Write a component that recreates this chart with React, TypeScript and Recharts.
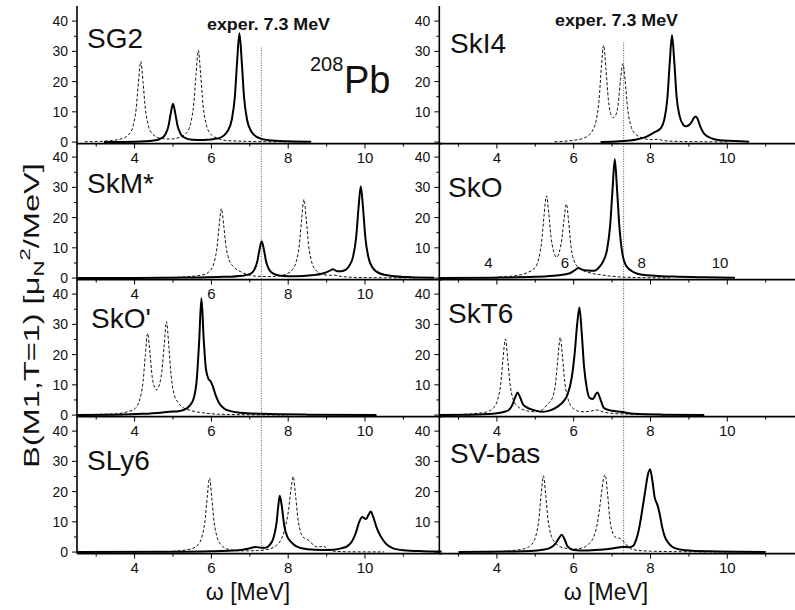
import React from 'react';
import { LineChart, Line, XAxis, YAxis, ReferenceLine } from 'recharts';

type P = [number, number];

// ---------- data: [omega (MeV), B(M1) (mu_N^2/MeV)] ----------
const sg2Solid: P[] = [
  [3.2, 0.05], [4.0, 0.15], [4.5, 0.5], [4.7, 1.3], [4.8, 2.5], [4.88, 5.2], [4.94, 9.4], [5.0, 12.7],
  [5.06, 9.4], [5.12, 5.3], [5.2, 2.7], [5.3, 1.5], [5.5, 0.8], [5.8, 0.7], [6.2, 1.3], [6.43, 3.8],
  [6.53, 7.4], [6.61, 14.9], [6.67, 26.7], [6.73, 36.0], [6.79, 26.7], [6.85, 14.9], [6.93, 7.3],
  [7.03, 3.7], [7.23, 1.4], [7.5, 0.6], [8.0, 0.25], [8.6, 0.1],
];
const sg2Dashed: P[] = [
  [2.7, 0.1], [3.2, 0.3], [3.66, 1.1], [3.86, 2.7], [3.96, 5.3], [4.04, 11], [4.1, 19.8], [4.16, 26.7],
  [4.22, 19.8], [4.28, 11], [4.36, 5.4], [4.46, 2.8], [4.66, 1.3], [4.9, 1.0], [5.16, 1.5], [5.36, 3.2],
  [5.46, 6.2], [5.54, 12.6], [5.6, 22.4], [5.66, 30.3], [5.72, 22.4], [5.78, 12.5], [5.86, 6.1],
  [5.96, 3.0], [6.16, 1.2], [6.4, 0.5], [6.8, 0.3], [7.5, 0.1], [8.5, 0.05],
];
const ski4Solid: P[] = [
  [6.7, 0.05], [7.2, 0.3], [7.6, 0.8], [7.9, 1.8], [8.1, 3.2], [8.27, 4.6], [8.36, 7.5], [8.44, 14.5],
  [8.5, 26], [8.56, 35.3], [8.62, 26.5], [8.68, 15], [8.76, 8.5], [8.85, 5.8], [8.92, 5.2], [9.0, 5.6],
  [9.08, 6.8], [9.13, 8.0], [9.18, 8.5], [9.23, 7.6], [9.3, 5.0], [9.4, 2.7], [9.6, 1.2], [9.9, 0.5],
  [10.57, 0.15],
];
const ski4Dashed: P[] = [
  [5.5, 0.1], [6.0, 0.6], [6.28, 1.4], [6.48, 3.6], [6.58, 6.9], [6.66, 13.8], [6.72, 24.6], [6.78, 32.0],
  [6.84, 24.3], [6.9, 14.4], [6.98, 8.8], [7.03, 8.1], [7.08, 8.6], [7.16, 12.6], [7.22, 20.7],
  [7.28, 25.9], [7.34, 20.3], [7.4, 11.5], [7.48, 5.8], [7.58, 3.0], [7.78, 1.4], [8.0, 0.8],
  [8.18, 0.9], [8.4, 0.4], [9.0, 0.15], [10.0, 0.05],
];
const skmSolid: P[] = [
  [2.5, 0.02], [4.0, 0.05], [5.5, 0.2], [6.3, 0.4], [6.81, 0.8], [7.01, 1.4], [7.11, 2.6], [7.19, 5.2],
  [7.25, 9.2], [7.31, 12.2], [7.37, 9.2], [7.43, 5.2], [7.51, 2.7], [7.61, 1.5], [7.81, 0.8], [8.2, 0.6],
  [8.6, 0.9], [8.9, 1.5], [9.05, 2.2], [9.17, 2.9], [9.27, 2.3], [9.39, 2.3], [9.49, 2.7], [9.59, 4.1],
  [9.69, 7.1], [9.77, 13.5], [9.83, 23], [9.89, 30.4], [9.95, 23], [10.01, 13.3], [10.09, 6.8],
  [10.19, 3.6], [10.39, 1.5], [10.7, 0.7], [11.2, 0.3], [11.8, 0.15],
];
const skmDashed: P[] = [
  [4.85, 0.1], [5.3, 0.4], [5.76, 1.0], [5.96, 2.4], [6.06, 4.7], [6.14, 9.6], [6.2, 17], [6.26, 23.0],
  [6.32, 17.5], [6.38, 10.5], [6.46, 6.0], [6.59, 3.6], [6.75, 2.2], [6.93, 1.2], [7.2, 0.6], [7.5, 0.5],
  [7.8, 0.8], [7.95, 1.3], [8.11, 2.8], [8.21, 5.5], [8.29, 11], [8.35, 19.5], [8.41, 26.0],
  [8.47, 19.5], [8.53, 11], [8.61, 5.4], [8.71, 2.7], [8.91, 1.2], [9.1, 0.9], [9.2, 1.0], [9.4, 0.5],
  [9.8, 0.2], [10.5, 0.1], [11.3, 0.05],
];
const skoSolid: P[] = [
  [2.5, 0.05], [4.0, 0.15], [5.0, 0.4], [5.6, 0.9], [5.9, 1.6], [6.02, 2.5], [6.12, 3.3], [6.22, 2.8],
  [6.36, 2.5], [6.54, 2.4], [6.67, 3.7], [6.77, 5.6], [6.87, 9.5], [6.95, 17.5], [7.01, 29], [7.07, 39.3],
  [7.13, 29], [7.19, 17], [7.27, 7.9], [7.37, 4.0], [7.57, 1.9], [7.8, 1.1], [8.1, 0.8], [8.6, 0.5],
  [9.4, 0.25], [10.2, 0.1],
];
const skoDashed: P[] = [
  [3.54, 0.1], [4.0, 0.3], [4.5, 0.8], [4.79, 1.8], [4.99, 3.4], [5.09, 6.4], [5.17, 12.6], [5.23, 21],
  [5.29, 27.2], [5.35, 21.5], [5.41, 13.5], [5.48, 8.7], [5.55, 6.9], [5.62, 8.4], [5.69, 12.8],
  [5.75, 19.5], [5.81, 24.5], [5.87, 18.5], [5.93, 10.4], [6.01, 5.7], [6.17, 3.0], [6.4, 1.8],
  [6.69, 1.1], [7.0, 0.6], [7.3, 0.3], [7.8, 0.15], [8.5, 0.05],
];
const skopSolid: P[] = [
  [2.5, 0.05], [3.5, 0.15], [4.2, 0.4], [4.68, 0.8], [4.9, 1.1], [5.1, 1.2], [5.3, 1.8], [5.44, 3.2],
  [5.54, 5.6], [5.62, 12], [5.68, 24], [5.74, 38.6], [5.8, 25], [5.86, 15], [5.93, 11.8], [5.98, 11.2],
  [6.04, 9.4], [6.11, 6.6], [6.2, 4.0], [6.33, 2.2], [6.5, 1.3], [6.76, 0.8], [7.3, 0.4], [8.5, 0.15],
  [10.3, 0.05],
];
const skopDashed: P[] = [
  [2.7, 0.1], [3.2, 0.3], [3.56, 0.5], [3.84, 1.2], [3.99, 1.9], [4.14, 5.4], [4.22, 11], [4.28, 20],
  [4.34, 27.0], [4.4, 20.5], [4.46, 12.5], [4.52, 9.2], [4.57, 8.3], [4.63, 9.5], [4.71, 14.5],
  [4.77, 23], [4.83, 30.9], [4.89, 23], [4.95, 13.2], [5.03, 6.8], [5.12, 4.4], [5.25, 2.6],
  [5.47, 1.5], [5.8, 0.7], [6.17, 0.3], [7.0, 0.1], [8.0, 0.05],
];
const skt6Solid: P[] = [
  [2.5, 0.05], [3.5, 0.2], [4.0, 0.6], [4.22, 1.2], [4.32, 1.8], [4.4, 3.3], [4.48, 6.0], [4.54, 7.5],
  [4.6, 6.0], [4.68, 3.5], [4.8, 2.4], [4.95, 1.7], [5.15, 1.1], [5.35, 1.4], [5.58, 2.8], [5.75, 4.8],
  [5.84, 6.8], [5.95, 12.5], [6.03, 21], [6.09, 30], [6.15, 35.6], [6.21, 27], [6.27, 16], [6.34, 9.0],
  [6.42, 5.6], [6.5, 5.3], [6.57, 6.8], [6.62, 7.5], [6.68, 5.8], [6.79, 2.3], [7.0, 1.4], [7.22, 1.1],
  [7.57, 0.4], [8.3, 0.15], [9.4, 0.05],
];
const skt6Dashed: P[] = [
  [2.63, 0.05], [3.2, 0.3], [3.72, 1.0], [3.92, 2.5], [4.02, 5.1], [4.1, 10.3], [4.16, 18.6], [4.22, 25.1],
  [4.28, 18.7], [4.34, 10.5], [4.42, 5.3], [4.55, 2.8], [4.75, 1.5], [4.98, 1.1], [5.15, 1.5],
  [5.32, 3.6], [5.45, 5.8], [5.53, 10.8], [5.59, 19], [5.65, 25.7], [5.71, 19], [5.77, 10.7],
  [5.85, 5.4], [5.93, 3.0], [6.05, 1.7], [6.19, 1.1], [6.4, 1.2], [6.6, 1.7], [6.78, 1.0], [6.97, 0.6],
  [7.4, 0.3], [8.0, 0.15], [9.0, 0.05],
];
const sly6Solid: P[] = [
  [2.5, 0.02], [5.0, 0.1], [6.0, 0.25], [6.7, 0.6], [6.95, 1.1], [7.15, 1.7], [7.3, 1.4], [7.4, 1.4],
  [7.52, 2.4], [7.62, 4.8], [7.7, 10], [7.74, 15], [7.78, 18.6], [7.83, 15.5], [7.9, 8.5], [7.98, 5.0],
  [8.06, 3.5], [8.2, 2.0], [8.5, 0.9], [8.9, 0.7], [9.18, 0.8], [9.4, 1.3], [9.53, 1.9], [9.66, 3.5],
  [9.76, 6.3], [9.85, 10], [9.93, 11.6], [9.99, 11.1], [10.03, 10.9], [10.09, 12.3], [10.15, 13.4],
  [10.21, 11.8], [10.3, 8.2], [10.41, 5.2], [10.55, 2.7], [10.72, 1.3], [11.0, 0.6], [11.5, 0.3],
  [12.0, 0.2],
];
const sly6Dashed: P[] = [
  [4.6, 0.05], [5.05, 0.3], [5.45, 1.0], [5.65, 2.4], [5.75, 4.9], [5.83, 10], [5.89, 18], [5.95, 24.5],
  [6.01, 18], [6.07, 10], [6.15, 4.9], [6.25, 2.4], [6.45, 0.9], [6.8, 0.4], [7.2, 0.5], [7.5, 1.0],
  [7.7, 2.3], [7.83, 4.5], [7.93, 8.5], [8.01, 14], [8.07, 20.5], [8.13, 25.0], [8.19, 19], [8.25, 11.5],
  [8.33, 6.3], [8.42, 4.6], [8.52, 4.0], [8.62, 2.8], [8.72, 1.8], [8.85, 1.8], [8.91, 2.1], [8.98, 1.5],
  [9.18, 0.3], [9.6, 0.1], [10.5, 0.05],
];
const svbasSolid: P[] = [
  [3.0, 0.02], [4.5, 0.2], [5.2, 0.8], [5.4, 1.5], [5.52, 2.7], [5.61, 4.5], [5.69, 5.7], [5.76, 4.3],
  [5.84, 1.9], [6.0, 0.7], [6.3, 0.5], [6.7, 0.8], [7.0, 1.2], [7.28, 1.7], [7.45, 1.6], [7.55, 2.1],
  [7.63, 4.2], [7.7, 7.6], [7.78, 13.5], [7.86, 20], [7.93, 25.5], [7.99, 27.4], [8.05, 23.5],
  [8.11, 18], [8.18, 15.6], [8.24, 12.6], [8.3, 8.5], [8.37, 5.2], [8.48, 2.8], [8.63, 1.3], [8.9, 0.6],
  [9.5, 0.25], [11.0, 0.05],
];
const svbasDashed: P[] = [
  [3.76, 0.05], [4.3, 0.4], [4.71, 1.1], [4.91, 2.6], [5.01, 5.2], [5.09, 10.5], [5.15, 18.8],
  [5.21, 25.2], [5.27, 19], [5.33, 10.8], [5.41, 5.7], [5.51, 3.2], [5.71, 1.5], [6.0, 1.0], [6.2, 1.3],
  [6.4, 2.8], [6.52, 5], [6.62, 9.8], [6.7, 17], [6.76, 23], [6.82, 25.6], [6.88, 19.5], [6.94, 11],
  [7.02, 6.2], [7.1, 4.8], [7.2, 4.5], [7.3, 3.5], [7.4, 2.0], [7.55, 0.8], [8.0, 0.3], [9.0, 0.1],
  [11.0, 0.05],
];

const xTicks = [3, 4, 5, 6, 7, 8, 9, 10, 11];
const xLabelTicks = [4, 6, 8, 10];
const yTicks = [0, 5, 10, 15, 20, 25, 30, 35, 40];
const yLabelTicks = [0, 10, 20, 30, 40];
const expEnergy = 7.3;

// ---------- layout ----------
const X_DOMAIN: [number, number] = [2.5, 12];
const Y_DOMAIN: [number, number] = [-0.5, 45];
const PLOT_W = 364.8;
const PLOT_H = 137.6;
const TOP_PAD = 10;
const Y_AXIS_W = 30;
const X_AXIS_H = 28;
const ROW_BOTTOMS = [143.2, 280, 416.8, 553.6];
const COL_AXIS = [77, 439.3];
const COL_LEFT = [0, 395];

const toRows = (pts: P[]) => pts.map(([x, y]) => ({ x, y }));

const XTick = (props: any) => {
  const { x, y, payload, showLabel } = props;
  const v = payload.value as number;
  const major = xLabelTicks.includes(v);
  return (
    <g>
      <line x1={x} x2={x} y1={y} y2={y + (major ? 5 : 3)} stroke="#000" strokeWidth={1} />
      {showLabel && major ? (
        <text x={x} y={y + 19} textAnchor="middle" fontSize={15} fill="#111">{v}</text>
      ) : null}
    </g>
  );
};

const YTick = (props: any) => {
  const { x, y, payload, showZero } = props;
  const v = payload.value as number;
  const major = yLabelTicks.includes(v);
  const showLabel = major && (v !== 0 || showZero);
  return (
    <g>
      <line x1={x - (major ? 5 : 3)} x2={x} y1={y} y2={y} stroke="#000" strokeWidth={1} />
      {showLabel ? (
        <text x={x - 9} y={y + 5} textAnchor="end" fontSize={14} fill="#111">{v}</text>
      ) : null}
    </g>
  );
};

type PanelProps = {
  solid: P[];
  dashed: P[];
  row: number;
  col: number;
  showXLabels: boolean;
  refTop?: number;
};

const Panel = ({ solid, dashed, row, col, showXLabels, refTop }: PanelProps) => {
  const axisX = COL_AXIS[col];
  const leftM = axisX - COL_LEFT[col] - Y_AXIS_W;
  const plotTop = ROW_BOTTOMS[row] - PLOT_H;
  const w = axisX - COL_LEFT[col] + PLOT_W + 4;
  const h = TOP_PAD + PLOT_H + X_AXIS_H + 2;
  return (
    <div style={{ position: 'absolute', left: COL_LEFT[col], top: plotTop - TOP_PAD, width: w, height: h }}>
      <LineChart width={w} height={h} margin={{ top: TOP_PAD, left: leftM, right: 4, bottom: 2 }}>
        <XAxis
          type="number"
          dataKey="x"
          domain={X_DOMAIN}
          allowDataOverflow
          ticks={xTicks}
          height={X_AXIS_H}
          tickSize={0}
          tickMargin={0}
          tickLine={false}
          interval={0}
          axisLine={{ stroke: '#000', strokeWidth: 1.6 }}
          tick={(p: any) => <XTick {...p} showLabel={showXLabels} />}
        />
        <YAxis
          type="number"
          dataKey="y"
          domain={Y_DOMAIN}
          allowDataOverflow
          ticks={yTicks}
          width={Y_AXIS_W}
          tickSize={0}
          tickMargin={0}
          tickLine={false}
          interval={0}
          axisLine={{ stroke: '#000', strokeWidth: 1.6 }}
          tick={(p: any) => <YTick {...p} showZero={col === 0} />}
        />
        {refTop !== undefined ? (
          <ReferenceLine
            segment={[{ x: expEnergy, y: -0.5 }, { x: expEnergy, y: refTop }]}
            stroke="#555"
            strokeWidth={1}
            strokeDasharray="1 1.5"
          />
        ) : (
          <ReferenceLine x={expEnergy} stroke="#555" strokeWidth={1} strokeDasharray="1 1.5" />
        )}
        <Line
          data={toRows(dashed)}
          dataKey="y"
          type="monotone"
          stroke="#111"
          strokeWidth={1}
          strokeDasharray="3 2"
          dot={false}
          activeDot={false}
          isAnimationActive={false}
        />
        <Line
          data={toRows(solid)}
          dataKey="y"
          type="monotone"
          stroke="#000"
          strokeWidth={2}
          dot={false}
          activeDot={false}
          isAnimationActive={false}
        />
      </LineChart>
    </div>
  );
};

const panelNames = [
  { t: 'SG2', x: 87, y: 48 },
  { t: 'SkI4', x: 450, y: 53 },
  { t: 'SkM*', x: 87, y: 193 },
  { t: 'SkO', x: 448, y: 197 },
  { t: "SkO'", x: 91, y: 328 },
  { t: 'SkT6', x: 448, y: 323 },
  { t: 'SLy6', x: 87, y: 470 },
  { t: 'SV-bas', x: 450, y: 463 },
];
const skoStrayLabels = [
  { t: '4', x: 488.3 },
  { t: '6', x: 565 },
  { t: '8', x: 641.7 },
  { t: '10', x: 720 },
];

export default function App() {
  return (
    <div
      style={{
        position: 'fixed',
        left: 0,
        top: 0,
        width: 795,
        height: 610,
        overflow: 'hidden',
        background: '#fff',
        fontFamily: "'Liberation Sans', Arial, sans-serif",
      }}
    >
      <Panel solid={sg2Solid} dashed={sg2Dashed} row={0} col={0} showXLabels refTop={31.4} />
      <Panel solid={ski4Solid} dashed={ski4Dashed} row={0} col={1} showXLabels refTop={33.4} />
      <Panel solid={skmSolid} dashed={skmDashed} row={1} col={0} showXLabels />
      <Panel solid={skoSolid} dashed={skoDashed} row={1} col={1} showXLabels={false} />
      <Panel solid={skopSolid} dashed={skopDashed} row={2} col={0} showXLabels />
      <Panel solid={skt6Solid} dashed={skt6Dashed} row={2} col={1} showXLabels />
      <Panel solid={sly6Solid} dashed={sly6Dashed} row={3} col={0} showXLabels />
      <Panel solid={svbasSolid} dashed={svbasDashed} row={3} col={1} showXLabels />
      <svg
        width={795}
        height={610}
        style={{ position: 'absolute', left: 0, top: 0, pointerEvents: 'none' }}
      >
        {panelNames.map((p) => (
          <text key={p.t} x={p.x} y={p.y} fontSize={28} fill="#111">{p.t}</text>
        ))}
        <text x={310} y={71} fontSize={20} fill="#111">208</text>
        <text x={344} y={93} fontSize={38} fill="#111">Pb</text>
        <text x={207} y={30} fontSize={16} fontWeight="bold" fill="#111" textLength={123} lengthAdjust="spacingAndGlyphs">
          exper. 7.3 MeV
        </text>
        <text x={555} y={26} fontSize={16} fontWeight="bold" fill="#111" textLength={123} lengthAdjust="spacingAndGlyphs">
          exper. 7.3 MeV
        </text>
        {skoStrayLabels.map((l) => (
          <text key={l.t} x={l.x} y={268} textAnchor="middle" fontSize={15} fill="#111">{l.t}</text>
        ))}
        <g transform="translate(39,468) rotate(-90) scale(1.48,1)">
          <text x={0} y={0} fontSize={22} fill="#111">
            B(M1,T=1) [μ
            <tspan fontSize={15} dy={5}>N</tspan>
            <tspan fontSize={15} dy={-14}>2</tspan>
            <tspan dy={9}>/MeV]</tspan>
          </text>
        </g>
        <text x={248} y={600} textAnchor="middle" fontSize={23} fill="#111">ω [MeV]</text>
        <text x={606} y={600} textAnchor="middle" fontSize={23} fill="#111">ω [MeV]</text>
      </svg>
    </div>
  );
}
